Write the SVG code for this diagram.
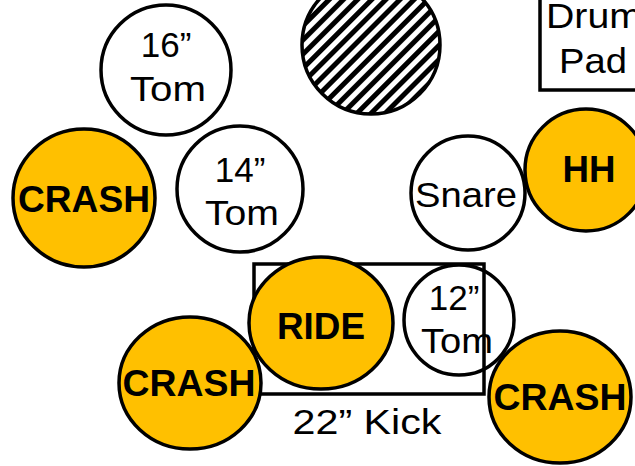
<svg xmlns="http://www.w3.org/2000/svg" width="635" height="466" viewBox="0 0 635 466">
<style>
.c{stroke:#000;stroke-width:3.5}
.w{fill:#fff}
.y{fill:#FFC000}
.t{font-family:"Liberation Sans",Arial,sans-serif;font-size:35px;fill:#000;text-anchor:middle}
.b{font-family:"Liberation Sans",Arial,sans-serif;font-size:36px;font-weight:bold;fill:#000;text-anchor:middle}
</style>
<defs>
<pattern id="hatch" width="10" height="10" patternUnits="userSpaceOnUse" patternTransform="rotate(45)">
<rect width="10" height="10" fill="#fff"/>
<rect x="0" y="0" width="5" height="10" fill="#000"/>
</pattern>
</defs>
<rect width="635" height="466" fill="#fff"/>
<g id="drum-pad">
<rect x="540" y="-10" width="110" height="100" fill="#fff" stroke="#000" stroke-width="3.5"/>
<text class="t" x="594" y="28" textLength="96" lengthAdjust="spacingAndGlyphs">Drum</text>
<text class="t" x="593" y="73" textLength="68" lengthAdjust="spacingAndGlyphs">Pad</text>
</g>
<g id="hatched">
<circle cx="371" cy="45" r="69" fill="url(#hatch)" class="c"/>
</g>
<g id="tom16">
<circle cx="166" cy="70" r="65" class="c w"/>
<text class="t" x="166" y="57">16”</text>
<text class="t" x="168" y="101" textLength="76" lengthAdjust="spacingAndGlyphs">Tom</text>
</g>
<g id="crash-left">
<ellipse cx="84" cy="198" rx="71" ry="69" class="c y"/>
<text class="b" x="84" y="212" textLength="132" lengthAdjust="spacingAndGlyphs">CRASH</text>
</g>
<g id="tom14">
<circle cx="240" cy="189" r="63" class="c w"/>
<text class="t" x="240" y="182">14”</text>
<text class="t" x="242" y="225" textLength="74" lengthAdjust="spacingAndGlyphs">Tom</text>
</g>
<g id="snare">
<circle cx="468" cy="193" r="57" class="c w"/>
<text class="t" x="466" y="207" textLength="102" lengthAdjust="spacingAndGlyphs">Snare</text>
</g>
<g id="hh">
<circle cx="586" cy="170" r="61" class="c y"/>
<text class="b" x="589" y="182" font-size="33" textLength="53" lengthAdjust="spacingAndGlyphs">HH</text>
</g>
<g id="kick">
<rect x="254" y="264" width="230" height="130" fill="none" stroke="#000" stroke-width="3.5"/>
<text class="t" x="367" y="434" textLength="149" lengthAdjust="spacingAndGlyphs">22” Kick</text>
</g>
<g id="ride">
<ellipse cx="321" cy="323" rx="72" ry="66" class="c y"/>
<text class="b" x="321" y="339" font-size="34" textLength="88" lengthAdjust="spacingAndGlyphs">RIDE</text>
</g>
<g id="tom12">
<circle cx="459" cy="320" r="55" class="c" fill="none"/>
<text class="t" x="454" y="310">12”</text>
<text class="t" x="457" y="353" textLength="72" lengthAdjust="spacingAndGlyphs">Tom</text>
</g>
<g id="crash-bottom-left">
<ellipse cx="190" cy="383" rx="71" ry="66" class="c y"/>
<text class="b" x="189" y="396" textLength="133" lengthAdjust="spacingAndGlyphs">CRASH</text>
</g>
<g id="crash-bottom-right">
<ellipse cx="560" cy="397" rx="71" ry="66" class="c y"/>
<text class="b" x="560" y="410" textLength="133" lengthAdjust="spacingAndGlyphs">CRASH</text>
</g>
<g id="connectors"></g>
</svg>
